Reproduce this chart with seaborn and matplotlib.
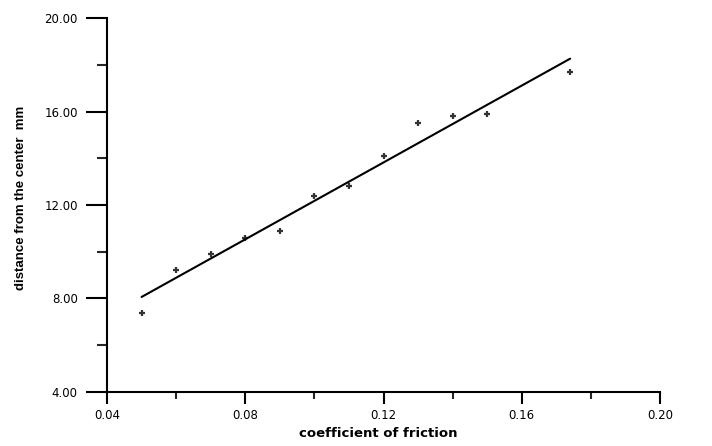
import numpy as np
import pandas as pd
import seaborn as sns
import matplotlib.pyplot as plt
from matplotlib.ticker import MultipleLocator, FormatStrFormatter

# values
friction = [0.05, 0.06, 0.07, 0.08, 0.09, 0.10, 0.11, 0.12, 0.13, 0.14, 0.15, 0.174]
distance = [7.4, 9.2, 9.9, 10.6, 10.9, 12.4, 12.8, 14.1, 15.5, 15.8, 15.9, 17.7]

df = pd.DataFrame({'friction': friction, 'distance': distance})

sns.set_style('ticks')
plt.rcParams['font.family'] = ['DejaVu Sans']

fig = plt.figure(figsize=(7.12, 4.46), dpi=100)
ax = fig.add_axes([0.1503, 0.1211, 0.7767, 0.8385])

sns.regplot(data=df, x='friction', y='distance', ci=None, ax=ax,
            marker='+', color='black',
            scatter_kws={'s': 18, 'linewidths': 1.6},
            line_kws={'linewidth': 1.5})

ax.set_xlim(0.04, 0.20)
ax.set_ylim(4, 20)
ax.xaxis.set_major_locator(MultipleLocator(0.04))
ax.xaxis.set_minor_locator(MultipleLocator(0.02))
ax.yaxis.set_major_locator(MultipleLocator(4))
ax.yaxis.set_minor_locator(MultipleLocator(2))
ax.xaxis.set_major_formatter(FormatStrFormatter('%.2f'))
ax.yaxis.set_major_formatter(FormatStrFormatter('%.2f'))

sns.despine(ax=ax)
for s in ['left', 'bottom']:
    ax.spines[s].set_linewidth(1.5)
    ax.spines[s].set_color('black')

ax.tick_params(axis='y', which='major', length=15, width=1.5, pad=6,
               labelsize=8.5, colors='black')
ax.tick_params(axis='y', which='minor', length=7.5, width=1.5)
ax.tick_params(axis='x', which='major', length=8.5, width=1.5, pad=4,
               labelsize=8.5, colors='black')
ax.tick_params(axis='x', which='minor', length=5, width=1.5)

ax.set_xlabel('coefficient of friction', fontsize=9.5, fontweight='bold',
              color='black')
ax.xaxis.set_label_coords(0.49, -0.093)
ax.set_ylabel('distance from the center  mm', fontsize=9.5, fontweight='bold',
              color='black',
              family=['Liberation Sans Narrow', 'Liberation Sans', 'DejaVu Sans'])
ax.yaxis.set_label_coords(-0.145, 0.519)

plt.savefig('out.png', dpi=100)
